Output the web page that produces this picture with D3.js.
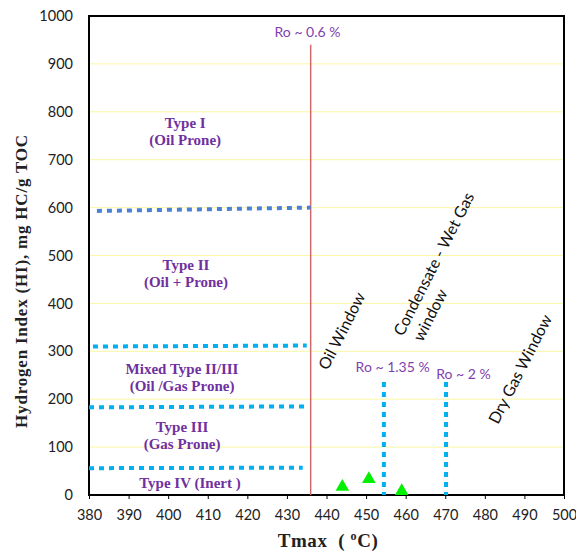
<!DOCTYPE html>
<html>
<head>
<meta charset="utf-8">
<script src="https://d3js.org/d3.v7.min.js"></script>
<style>
  html, body { margin: 0; padding: 0; background: #fff; overflow: hidden; }
  svg { display: block; }
  .tick text { font-family: Lato, 'Open Sans', sans-serif; font-size: 14.5px; fill: #222; }
  .axis-title { font-family: 'Liberation Serif', serif; font-weight: bold; fill: #222; white-space: pre; }
  .kerogen { font-family: 'Liberation Serif', serif; font-weight: bold; font-size: 15px; fill: #7030a0; }
  .ro { font-family: Lato, sans-serif; font-size: 14px; fill: #7f3fb0; }
  .window { font-family: Lato, sans-serif; font-size: 16px; fill: #111; }
</style>
</head>
<body>
<svg width="576" height="551"></svg>
<script>
// axis ticks
const tmaxTicks = [380, 390, 400, 410, 420, 430, 440, 450, 460, 470, 480, 490, 500];
const hiTicks = [0, 100, 200, 300, 400, 500, 600, 700, 800, 900, 1000];

// samples
const sampleTmax = [444, 450.7, 459];
const sampleHI = [17, 33, 8];

// kerogen type boundaries (Tmax/HI end points)
const boundaryTmax1 = [382, 381, 380, 380];
const boundaryHI1 = [593, 310, 183, 56];
const boundaryTmax2 = [436, 435, 434.5, 434];
const boundaryHI2 = [600, 312, 185, 57];

// maturity boundaries
const roLineTmax = 436;
const roLineHI = [0, 940];
const maturityTmax = [454.5, 470.2];
const maturityHI = [0, 236];

// labels
const kerogenLabels = [['Type I', '(Oil Prone)'], ['Type II', '(Oil + Prone)'],
  ['Mixed Type II/III', '(Oil /Gas Prone)'], ['Type III', '(Gas Prone)'], ['Type IV (Inert )']];
const kerogenTmax = [404.3, 404.5, 403.5, 403.5, 405.5];
const kerogenHI = [777, 480, 263, 142, 25];

const roLabels = ['Ro ~ 0.6 %', 'Ro ~ 1.35 %', 'Ro ~ 2 %'];
const roTmax = [435.2, 456.7, 474.6];
const roHI = [967, 267, 253];

const windowLabels = [['Oil Window'], ['Condensate - Wet Gas', 'window'], ['Dry Gas Window']];
const windowTmax = [440.3, 459.3, 483.3];
const windowHI = [259, 330, 146];

const margin = { left: 89, right: 12, top: 16, bottom: 56 };
const svg = d3.select('svg');
const width = +svg.attr('width');
const height = +svg.attr('height');
const innerWidth = width - margin.left - margin.right;
const innerHeight = height - margin.top - margin.bottom;
const g = svg.append('g')
  .attr('transform', `translate(${margin.left},${margin.top})`);

const xScale = d3.scaleLinear().domain([380, 500]).range([0, innerWidth]);
const yScale = d3.scaleLinear().domain([0, 1000]).range([innerHeight, 0]);

// grid
g.selectAll('line.grid')
  .data(hiTicks.filter(d => d > 0 && d < 1000))
  .enter().append('line')
  .attr('class', 'grid')
  .attr('x1', 0).attr('x2', innerWidth)
  .attr('y1', d => yScale(d)).attr('y2', d => yScale(d))
  .attr('stroke', '#fbf7a6')
  .attr('stroke-width', 1);

// axes
const xAxisG = g.append('g')
  .attr('transform', `translate(0, ${innerHeight})`)
  .call(d3.axisBottom(xScale).tickValues(tmaxTicks).tickFormat(d3.format('d'))
    .tickSize(4).tickPadding(11).tickSizeOuter(0));
xAxisG.select('.domain').remove();
xAxisG.selectAll('.tick line').attr('stroke', '#000');

const yAxisG = g.append('g')
  .call(d3.axisLeft(yScale).tickValues(hiTicks).tickFormat(d3.format('d'))
    .tickSize(0).tickPadding(16));
yAxisG.select('.domain').remove();

// frame
g.append('rect')
  .attr('width', innerWidth)
  .attr('height', innerHeight)
  .attr('fill', 'none')
  .attr('stroke', '#000')
  .attr('stroke-width', 2);

// Ro ~ 0.6 % line
g.append('line')
  .attr('x1', xScale(roLineTmax)).attr('x2', xScale(roLineTmax))
  .attr('y1', yScale(roLineHI[0])).attr('y2', yScale(roLineHI[1]))
  .attr('stroke', '#d06a6a')
  .attr('stroke-width', 1.5);

// kerogen type boundaries
g.selectAll('line.bound')
  .data(boundaryTmax1)
  .enter().append('line')
  .attr('class', 'bound')
  .attr('x1', (d, i) => xScale(boundaryTmax1[i]))
  .attr('y1', (d, i) => yScale(boundaryHI1[i]))
  .attr('x2', (d, i) => xScale(boundaryTmax2[i]))
  .attr('y2', (d, i) => yScale(boundaryHI2[i]))
  .attr('stroke', (d, i) => i === 0 ? '#4a80d6' : '#00b0f0')
  .attr('stroke-width', 4)
  .attr('stroke-dasharray', '5,5');

// maturity boundaries
g.selectAll('line.mat')
  .data(maturityTmax)
  .enter().append('line')
  .attr('class', 'mat')
  .attr('x1', d => xScale(d)).attr('x2', d => xScale(d))
  .attr('y1', yScale(maturityHI[1])).attr('y2', yScale(maturityHI[0]))
  .attr('stroke', '#00b0f0')
  .attr('stroke-width', 4)
  .attr('stroke-dasharray', '5,5');

// kerogen labels
kerogenLabels.forEach((lines, i) => {
  const t = g.append('text')
    .attr('class', 'kerogen')
    .attr('text-anchor', 'middle')
    .attr('transform', `translate(${xScale(kerogenTmax[i])},${yScale(kerogenHI[i]) + 5})`);
  lines.forEach((s, j) => {
    t.append('tspan').attr('x', 0).attr('dy', j === 0 ? 0 : 17).text(s);
  });
});

// Ro labels
g.selectAll('text.ro')
  .data(roLabels)
  .enter().append('text')
  .attr('class', 'ro')
  .attr('text-anchor', 'middle')
  .attr('x', (d, i) => xScale(roTmax[i]))
  .attr('y', (d, i) => yScale(roHI[i]) + 5)
  .text(d => d);

// window labels
windowLabels.forEach((lines, i) => {
  const t = g.append('text')
    .attr('class', 'window')
    .attr('transform', `translate(${xScale(windowTmax[i])},${yScale(windowHI[i])}) rotate(-63)`);
  lines.forEach((s, j) => {
    t.append('tspan').attr('x', j === 0 ? 0 : 4).attr('dy', j === 0 ? 0 : 20).text(s);
  });
});

// samples
g.selectAll('path.sample')
  .data(sampleTmax)
  .enter().append('path')
  .attr('class', 'sample')
  .attr('transform', (d, i) => `translate(${xScale(d)},${yScale(sampleHI[i])})`)
  .attr('d', d3.symbol().type(d3.symbolTriangle).size(80))
  .attr('fill', '#00f000');

// axis titles
svg.append('text')
  .attr('class', 'axis-title')
  .attr('text-anchor', 'middle')
  .attr('font-size', 17)
  .attr('letter-spacing', 0.8)
  .attr('transform', `translate(27, 281) rotate(-90)`)
  .text('Hydrogen Index (HI), mg HC/g TOC');

const xt = svg.append('text')
  .attr('class', 'axis-title')
  .attr('text-anchor', 'middle')
  .attr('font-size', 19)
  .attr('letter-spacing', 0.6)
  .attr('x', 328)
  .attr('y', 547);
xt.append('tspan').text('Tmax  ( ');
xt.append('tspan').attr('font-size', 12).attr('dy', -7).text('o');
xt.append('tspan').attr('dy', 7).text('C)');
</script>
</body>
</html>
